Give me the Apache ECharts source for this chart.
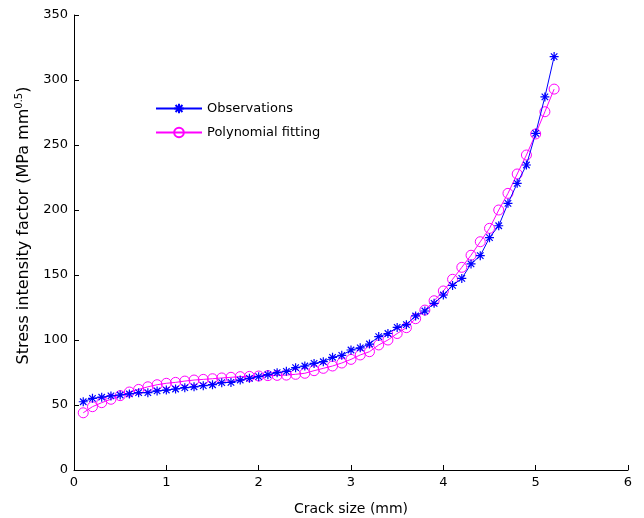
<!DOCTYPE html>
<html>
<head>
<meta charset="utf-8">
<script src="https://cdn.jsdelivr.net/npm/echarts@6/dist/echarts.min.js"></script>
<style>html,body{margin:0;padding:0;background:#fff}#c{width:644px;height:518px}</style>
</head>
<body>
<div id="c"></div>
<script>
var crackSize = [0.1,0.2,0.3,0.4,0.5,0.6,0.7,0.8,0.9,1.0,1.1,1.2,1.3,1.4,1.5,1.6,1.7,1.8,1.9,2.0,2.1,2.2,2.3,2.4,2.5,2.6,2.7,2.8,2.9,3.0,3.1,3.2,3.3,3.4,3.5,3.6,3.7,3.8,3.9,4.0,4.1,4.2,4.3,4.4,4.5,4.6,4.7,4.8,4.9,5.0,5.1,5.2];
var observations = [52.5,55.1,56,57,57.7,58.5,59.5,59.5,60.8,61.5,62.3,63.3,64,64.9,65.6,67.2,67.4,69.2,70.5,71.8,73.3,74.9,75.9,78.7,80,82,83.3,86.7,88.2,92.3,94,96.9,102.6,105,109.7,111.8,118.5,122.3,128.2,134.6,142,147.4,158.5,164.9,178.7,187.9,205.1,220.5,234.6,259,287,318];
var polyFit = [44,48.7,51.8,54.4,57.2,60,62,64,65.6,66.7,67.4,68.4,69.2,69.7,70.2,70.8,71.3,71.8,72,72.3,72.6,72.8,73,73.6,74.4,76.4,78.2,80,82.3,85.1,88.5,91,96.2,100,105,109.5,116.4,123,130.2,137.7,146.7,155.9,165.2,175.6,185.9,200,212.8,227.7,242.3,258.5,275.6,293];
var xTicks = [0,1,2,3,4,5,6];
var yTicks = [0,50,100,150,200,250,300,350];
var seriesNames = ['Observations','Polynomial fitting'];

function pairs(xs, ys){ return xs.map(function(x,i){ return [x, ys[i]]; }); }

var FONT = 'DejaVu Sans';
var star = 'path://M0,-5L0,5M-5,0L5,0M-3.6,-3.6L3.6,3.6M-3.6,3.6L3.6,-3.6';
var chart = echarts.init(document.getElementById('c'), null, {renderer:'canvas'});
chart.setOption({
  animation: false,
  backgroundColor: '#fff',
  grid: {left: 74, right: 16, top: 15, bottom: 48, containLabel: false, outerBoundsMode: 'none'},
  legend: {
    orient: 'vertical', left: 150, top: 97, itemWidth: 46, itemHeight: 12, itemGap: 11,
    textStyle: {fontFamily: FONT, fontSize: 13, color: '#000'},
    data: seriesNames
  },
  xAxis: {
    type: 'value', min: xTicks[0], max: xTicks[xTicks.length-1], interval: 1,
    name: 'Crack size (mm)', nameLocation: 'middle', nameGap: 32,
    nameTextStyle: {fontFamily: FONT, fontSize: 14, color: '#000'},
    axisLine: {lineStyle: {color: '#000', width: 1}},
    axisTick: {inside: true, length: 5, lineStyle: {color: '#000'}},
    axisLabel: {fontFamily: FONT, fontSize: 13, color: '#000', margin: 6},
    splitLine: {show: false}
  },
  yAxis: {
    type: 'value', min: yTicks[0], max: yTicks[yTicks.length-1], interval: 50,
    name: '{n|Stress intensity factor (MPa mm}{s|0.5}{n|)}', nameLocation: 'middle', nameGap: 38, nameRotate: 90,
    nameTextStyle: {
      fontFamily: FONT, fontSize: 16, color: '#000', padding: [0,0,0,34],
      rich: {
        n: {fontFamily: FONT, fontSize: 16, color: '#000'},
        s: {fontFamily: FONT, fontSize: 10, color: '#000', verticalAlign: 'top', padding: [0,0,9,0]}
      }
    },
    axisLine: {show: true, lineStyle: {color: '#000', width: 1}},
    axisTick: {show: true, inside: true, length: 5, lineStyle: {color: '#000'}},
    axisLabel: {fontFamily: FONT, fontSize: 13, color: '#000', margin: 6},
    splitLine: {show: false}
  },
  series: [
    {
      name: seriesNames[0], type: 'line', data: pairs(crackSize, observations),
      symbol: star, symbolSize: 9,
      lineStyle: {color: '#0000ff', width: 1},
      itemStyle: {color: 'rgba(0,0,0,0)', borderColor: '#0000ff', borderWidth: 1.2},
      z: 3
    },
    {
      name: seriesNames[1], type: 'line', data: pairs(crackSize, polyFit),
      symbol: 'circle', symbolSize: 10,
      lineStyle: {color: '#ff00ff', width: 1},
      itemStyle: {color: 'rgba(0,0,0,0)', borderColor: '#ff00ff', borderWidth: 1},
      z: 2
    }
  ]
});
</script>
</body>
</html>
